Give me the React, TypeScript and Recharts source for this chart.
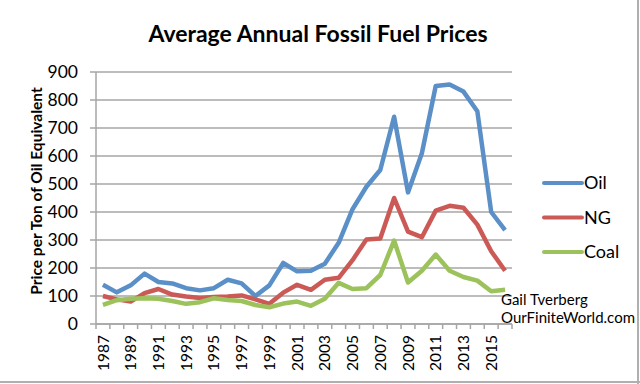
import React from 'react';
import { LineChart, Line, XAxis, YAxis, CartesianGrid, Legend } from 'recharts';

const years = [1987,1988,1989,1990,1991,1992,1993,1994,1995,1996,1997,1998,1999,2000,2001,2002,2003,2004,2005,2006,2007,2008,2009,2010,2011,2012,2013,2014,2015,2016];
const oil = [140,113,138,180,150,145,128,120,128,158,145,100,138,218,188,190,215,290,410,490,550,740,470,610,850,855,830,760,400,335];
const ng = [100,88,80,110,125,105,98,93,96,98,102,88,72,112,140,122,158,165,228,302,305,450,330,310,405,422,415,355,260,190];
const coal = [68,85,90,92,90,82,72,78,92,86,82,68,60,73,80,65,90,147,125,128,175,298,148,190,248,190,168,155,117,122];
const yTicks = [0,100,200,300,400,500,600,700,800,900];
const seriesNames = ['Oil', 'NG', 'Coal'];

const data = years.map((y, i) => ({ year: y, Oil: oil[i], NG: ng[i], Coal: coal[i] }));

const FONT = 'Lato, "Open Sans", sans-serif';
const GRAY = '#a6a6a6';
const PLOT_W = 416;
const STEP = PLOT_W / years.length;

const XTick = (props: any) => {
  const { x, y, payload, index } = props;
  const yr = payload.value as number;
  const last = index === years.length - 1;
  return (
    <g>
      <line x1={x - STEP / 2} y1={y} x2={x - STEP / 2} y2={y + 5} stroke={GRAY} strokeWidth={1.5} />
      {last && <line x1={x + STEP / 2} y1={y} x2={x + STEP / 2} y2={y + 5} stroke={GRAY} strokeWidth={1.5} />}
      {yr % 2 === 1 && (
        <g transform={`translate(${x},${y + 11}) rotate(-90)`}>
          <text x={0} y={0} dy="0.36em" textAnchor="end" fontSize={15.5} fill="#000" fontFamily={FONT}>{yr}</text>
        </g>
      )}
    </g>
  );
};

const LegendContent = (props: any) => {
  const payload = [...(props.payload || [])].sort(
    (a: any, b: any) => seriesNames.indexOf(a.value) - seriesNames.indexOf(b.value)
  );
  return (
    <svg width={95} height={110} style={{ overflow: 'visible' }}>
      {payload.map((p: any, i: number) => (
        <g key={p.value}>
          <line x1={0} y1={18 + i * 34.5} x2={38} y2={18 + i * 34.5} stroke={p.color} strokeWidth={4} strokeLinecap="round" />
          <text x={40} y={18 + i * 34.5} dy="0.36em" fontSize={18} fontFamily={FONT} fill="#000">{p.value}</text>
        </g>
      ))}
    </svg>
  );
};

export default function App() {
  return (
    <div style={{ position: 'absolute', left: 0, top: 0, width: 640, height: 384, background: '#fff', fontFamily: FONT }}>
      <LineChart width={640} height={384} data={data} margin={{ top: 72, right: 128, bottom: 0, left: 0 }}>
        <CartesianGrid vertical={false} stroke={GRAY} strokeWidth={1.5} />
        <XAxis
          dataKey="year"
          type="number"
          domain={[1986.5, 2016.5]}
          ticks={years}
          interval={0}
          height={60}
          tickSize={0}
          tickMargin={0}
          tickLine={false}
          axisLine={{ stroke: GRAY, strokeWidth: 1.5 }}
          tick={<XTick />}
        />
        <YAxis
          width={96}
          domain={[0, 900]}
          ticks={yTicks}
          interval={0}
          tickSize={6}
          tickMargin={12}
          axisLine={{ stroke: GRAY, strokeWidth: 1.5 }}
          tickLine={{ stroke: GRAY, strokeWidth: 1.5 }}
          tick={{ fontSize: 17.5, fill: '#000', fontFamily: FONT }}
        />
        <Legend
          layout="vertical"
          align="center"
          verticalAlign="middle"
          wrapperStyle={{ left: 544, top: 165, width: 95 }}
          content={<LegendContent />}
        />
        <Line dataKey="Oil" stroke="#5B8FC7" strokeWidth={4.5} dot={false} isAnimationActive={false} strokeLinejoin="round" />
        <Line dataKey="NG" stroke="#CB5A57" strokeWidth={4.5} dot={false} isAnimationActive={false} strokeLinejoin="round" />
        <Line dataKey="Coal" stroke="#9CC25B" strokeWidth={4.5} dot={false} isAnimationActive={false} strokeLinejoin="round" />
      </LineChart>
      <svg width={640} height={384} style={{ position: 'absolute', left: 0, top: 0, pointerEvents: 'none' }}>
        <text x={318} y={34} dy="0.35em" textAnchor="middle" fontSize={23} fontWeight="bold" fontFamily={FONT} fill="#000">Average Annual Fossil Fuel Prices</text>
        <text transform="translate(37,191) rotate(-90)" dy="0.35em" textAnchor="middle" fontSize={15.5} fontWeight="bold" fontFamily={FONT} fill="#000">Price per Ton of Oil Equivalent</text>
        <text x={501} y={300} dy="0.35em" fontSize={15} fontFamily={FONT} fill="#000">Gail Tverberg</text>
        <text x={501} y={318} dy="0.35em" fontSize={15} fontFamily={FONT} fill="#000">OurFiniteWorld.com</text>
        <line x1={638} y1={0} x2={638} y2={384} stroke="#b0b0b0" strokeWidth={2} />
        <line x1={0} y1={382} x2={640} y2={382} stroke="#b0b0b0" strokeWidth={2} />
      </svg>
    </div>
  );
}
